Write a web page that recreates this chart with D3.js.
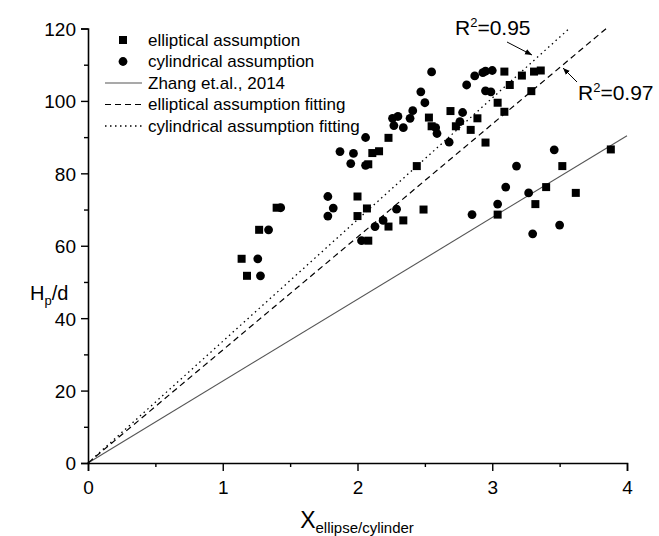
<!DOCTYPE html>
<html><head><meta charset="utf-8">
<script src="https://cdn.jsdelivr.net/npm/d3@7"></script>
<style>body{margin:0;background:#fff}svg{display:block}text{font-family:"Liberation Sans",Arial,sans-serif;fill:#000}</style>
</head><body>
<svg id="c" width="659" height="536"></svg>
<script>
const xTicks=[0,1,2,3,4];
const yTicks=[0,20,40,60,80,100,120];
const ellipticalX=[1.14,1.18,1.27,1.40,2.00,2.07,2.00,2.08,2.23,2.34,2.49,2.08,2.11,2.16,2.23,2.44,2.53,2.55,2.69,2.73,2.84,2.89,2.95,3.04,3.09,3.09,3.13,3.22,3.29,3.31,3.36,3.04,3.32,3.40,3.52,3.62,3.88];
const ellipticalY=[56.4,51.7,64.4,70.5,73.6,70.3,68.2,61.4,65.3,67.0,70.0,82.5,85.6,86.1,89.8,82.0,95.4,93.0,97.2,93.0,92.0,95.2,88.5,99.5,97.0,108.1,104.4,107.0,102.7,108.1,108.4,68.6,71.5,76.2,82.0,74.6,86.6];
const cylindricalX=[1.26,1.28,1.34,1.43,1.78,1.82,1.78,2.03,2.13,2.19,2.29,2.85,1.87,1.97,1.95,2.06,2.06,2.26,2.30,2.27,2.34,2.39,2.41,2.47,2.50,2.55,2.58,2.59,2.68,2.78,2.76,2.81,2.87,2.93,2.95,3.00,2.95,2.99,3.04,3.10,3.18,3.27,3.30,3.46,3.50];
const cylindricalY=[56.4,51.7,64.4,70.5,73.6,70.4,68.2,61.4,65.3,67.0,70.1,68.6,86.0,85.5,82.7,82.2,89.9,95.2,95.7,93.2,92.6,95.2,97.3,102.5,99.5,108.0,92.6,91.0,88.6,96.8,94.3,104.4,106.9,107.8,108.2,108.4,102.8,102.5,71.5,76.2,82.0,74.6,63.3,86.5,65.7];
const zhangSlope=22.6, zhangXEnd=4;
const ellFitSlope=31.2, ellFitYEnd=120;
const cylFitSlope=33.6, cylFitYEnd=119.8;
const legendLabels=["elliptical assumption","cylindrical assumption","Zhang et.al., 2014","elliptical assumption fitting","cylindrical assumption fitting"];

const svg=d3.select("#c");
const x=d3.scaleLinear().domain([0,4]).range([88,627]);
const y=d3.scaleLinear().domain([0,120]).range([463,28.5]);

// fit lines
const line=d3.line().x(d=>x(d[0])).y(d=>y(d[1]));
svg.append("path").attr("d",line([[0,0],[zhangXEnd,zhangSlope*zhangXEnd]])).attr("stroke","#555").attr("stroke-width",1.1).attr("fill","none");
svg.append("path").attr("d",line([[0,0],[ellFitYEnd/ellFitSlope,ellFitYEnd]])).attr("stroke","#000").attr("stroke-width",1.2).attr("stroke-dasharray","6,4").attr("fill","none");
svg.append("path").attr("d",line([[0,0],[cylFitYEnd/cylFitSlope,cylFitYEnd]])).attr("stroke","#000").attr("stroke-width",1.3).attr("stroke-dasharray","1.5,3.5").attr("fill","none");

// points
const sq=8;
svg.append("g").selectAll("rect").data(ellipticalX.map((v,i)=>[v,ellipticalY[i]])).join("rect")
  .attr("x",d=>x(d[0])-sq/2).attr("y",d=>y(d[1])-sq/2).attr("width",sq).attr("height",sq).attr("fill","#000");
svg.append("g").selectAll("circle").data(cylindricalX.map((v,i)=>[v,cylindricalY[i]])).join("circle")
  .attr("cx",d=>x(d[0])).attr("cy",d=>y(d[1])).attr("r",4.4).attr("fill","#000");

// axes
const xa=svg.append("g").attr("transform","translate(0,463)");
xa.call(d3.axisBottom(x).tickValues(xTicks).tickSize(8).tickFormat(d3.format("d")));
const xm=svg.append("g").attr("transform","translate(0,463)");
xm.call(d3.axisBottom(x).tickValues([0.5,1.5,2.5,3.5]).tickSize(4).tickFormat(""));
const ya=svg.append("g").attr("transform","translate(88,0)");
ya.call(d3.axisLeft(y).tickValues(yTicks).tickSize(7).tickFormat(d3.format("d")));
const ym=svg.append("g").attr("transform","translate(88,0)");
ym.call(d3.axisLeft(y).tickValues([10,30,50,70,90,110]).tickSize(4).tickFormat(""));
svg.selectAll(".domain").attr("stroke","#000").attr("stroke-width",1.6);
svg.selectAll(".tick line").attr("stroke","#000").attr("stroke-width",1.4);
xm.select(".domain").remove(); ym.select(".domain").remove();
xa.selectAll("text").attr("font-size",19).attr("font-family","Liberation Sans, Arial, sans-serif").attr("dy","1.05em");
ya.selectAll("text").attr("font-size",19).attr("font-family","Liberation Sans, Arial, sans-serif").attr("dx","-2").attr("dy","0.36em");

// axis titles
const xt=svg.append("text").attr("x",357).attr("y",528).attr("text-anchor","middle");
xt.append("tspan").attr("font-size",23).text("X");
xt.append("tspan").attr("font-size",15).attr("dy",5).text("ellipse/cylinder");
const yt=svg.append("text").attr("x",30).attr("y",300);
yt.append("tspan").attr("font-size",20).text("H");
yt.append("tspan").attr("font-size",13).attr("dy",5).text("p");
yt.append("tspan").attr("font-size",20).attr("dy",-5).text("/d");

// legend
const lg=svg.append("g");
const ly=[40,61.5,83,104.5,126];
lg.append("rect").attr("x",123-sq/2).attr("y",ly[0]-sq/2).attr("width",sq).attr("height",sq);
lg.append("circle").attr("cx",123).attr("cy",ly[1]).attr("r",4.4);
lg.append("line").attr("x1",105).attr("x2",142).attr("y1",ly[2]).attr("y2",ly[2]).attr("stroke","#555").attr("stroke-width",1.1);
lg.append("line").attr("x1",105).attr("x2",142).attr("y1",ly[3]).attr("y2",ly[3]).attr("stroke","#000").attr("stroke-width",1.2).attr("stroke-dasharray","6,4");
lg.append("line").attr("x1",105).attr("x2",142).attr("y1",ly[4]).attr("y2",ly[4]).attr("stroke","#000").attr("stroke-width",1.3).attr("stroke-dasharray","1.5,3.5");
legendLabels.forEach((t,i)=>lg.append("text").attr("x",148).attr("y",ly[i]).attr("dy","0.35em").attr("font-size",17).text(t));

// annotations
svg.append("defs").append("marker").attr("id","ah").attr("viewBox","0 0 10 10").attr("refX",10).attr("refY",5)
 .attr("markerWidth",7).attr("markerHeight",7).attr("orient","auto").append("path").attr("d","M0,1 L10,5 L0,9 Z").attr("fill","#000");
const a1=svg.append("text").attr("x",455).attr("y",35).attr("font-size",21);
a1.append("tspan").text("R");
a1.append("tspan").attr("font-size",13).attr("dy",-8).text("2");
a1.append("tspan").attr("dy",8).text("=0.95");
svg.append("line").attr("x1",507).attr("y1",42).attr("x2",532).attr("y2",55).attr("stroke","#000").attr("stroke-width",1).attr("marker-end","url(#ah)");
const a2=svg.append("text").attr("x",578).attr("y",100).attr("font-size",21);
a2.append("tspan").text("R");
a2.append("tspan").attr("font-size",13).attr("dy",-8).text("2");
a2.append("tspan").attr("dy",8).text("=0.97");
svg.append("line").attr("x1",577).attr("y1",82).attr("x2",563).attr("y2",68).attr("stroke","#000").attr("stroke-width",1).attr("marker-end","url(#ah)");
</script>
</body></html>
